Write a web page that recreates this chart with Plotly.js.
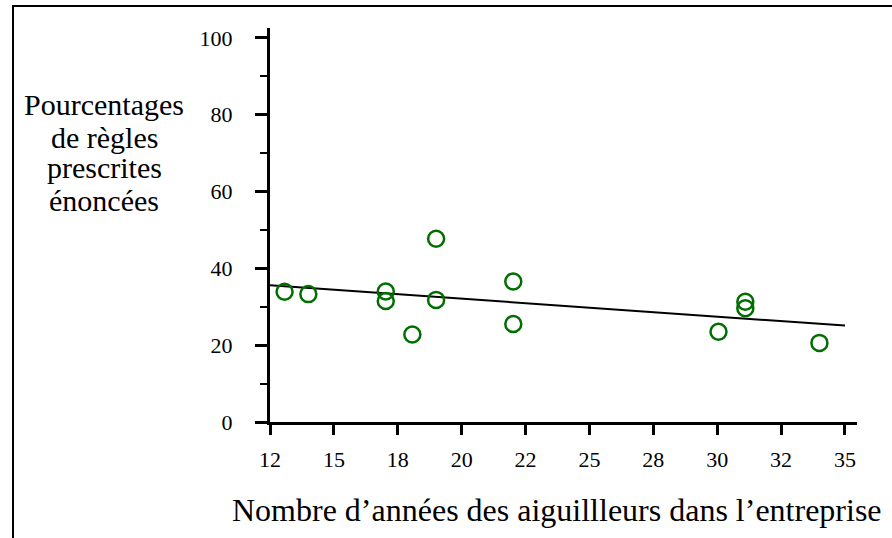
<!DOCTYPE html>
<html><head><meta charset="utf-8">
<script src="https://cdn.plot.ly/plotly-3.0.1.min.js"></script>
<style>html,body{margin:0;padding:0;background:#fff}#chart{width:892px;height:538px}</style>
</head><body><div id="chart"></div>
<script>
const years = [13.07, 14.0, 17.03, 17.03, 18.07, 19.0, 19.0, 22.02, 22.02, 30.05, 31.1, 31.1, 34.0];
const percents = [33.9, 33.3, 34.0, 31.5, 22.8, 47.7, 31.8, 36.6, 25.5, 23.5, 31.3, 29.6, 20.6];
const fitX = [12.5, 35];
const fitY = [35.6, 25.1];
const xTickVals = [12.5, 15, 17.5, 20, 22.5, 25, 27.5, 30, 32.5, 35];
const xTickText = ['12', '15', '18', '20', '22', '25', '28', '30', '32', '35'];
const yTickVals = [0, 20, 40, 60, 80, 100];
const yTitleLines = ['Pourcentages', 'de règles', 'prescrites', 'énoncées'];
const xTitle = 'Nombre d\u2019années des aiguillleurs dans l\u2019entreprise';

const font = '"Liberation Serif", "Times New Roman", serif';
const traces = [
  {x: fitX, y: fitY, mode: 'lines', line: {color: '#000', width: 2}, hoverinfo: 'skip'},
  {x: years, y: percents, mode: 'markers',
   marker: {symbol: 'circle-open', size: 16, color: 'rgb(0,110,0)', line: {width: 2.5, color: 'rgb(0,110,0)'}}}
];
const yLineCenters = [105, 137, 168, 200];
const annotations = yTitleLines.map((t, i) => ({
  text: t, xref: 'paper', yref: 'paper', x: (104 - 270) / 587, y: (422 - yLineCenters[i]) / 394,
  xanchor: 'center', yanchor: 'middle', showarrow: false,
  font: {family: font, size: 30, color: '#000'}
}));
annotations.push({text: xTitle, xref: 'paper', yref: 'paper', x: (557 - 270) / 587, y: (422 - 510) / 394,
  xanchor: 'center', yanchor: 'middle', showarrow: false,
  font: {family: font, size: 32, color: '#000'}});
const layout = {
  width: 892, height: 538,
  margin: {l: 270, r: 35, t: 28, b: 116},
  paper_bgcolor: '#fff', plot_bgcolor: '#fff',
  showlegend: false,
  font: {family: font, color: '#000', size: 22},
  xaxis: {range: [12.5, 35.47], tickmode: 'array', tickvals: xTickVals, ticktext: xTickText,
    showgrid: false, zeroline: false, showline: true, linecolor: '#000', linewidth: 3,
    ticks: 'outside', ticklen: 10, tickwidth: 3, tickcolor: '#000',
    ticklabelstandoff: 6, tickfont: {family: font, size: 22, color: '#000'}},
  yaxis: {range: [0, 102.6], tickmode: 'array', tickvals: yTickVals,
    showgrid: false, zeroline: false, showline: true, linecolor: '#000', linewidth: 3,
    ticks: 'outside', ticklen: 12, tickwidth: 3, tickcolor: '#000',
    minor: {tickvals: [10, 30, 50, 70, 90], ticks: 'outside', ticklen: 7, tickwidth: 2, tickcolor: '#000'},
    ticklabelstandoff: 18, tickfont: {family: font, size: 22, color: '#000'}},
  annotations: annotations,
  shapes: [
    {type: 'rect', xref: 'paper', yref: 'paper', x0: (13 - 270) / 587, x1: (905 - 270) / 587,
     y0: (422 - 560) / 394, y1: (422 - 6) / 394, line: {color: '#000', width: 2}, layer: 'below'}
  ]
};
Plotly.newPlot('chart', traces, layout, {staticPlot: true});
</script></body></html>
